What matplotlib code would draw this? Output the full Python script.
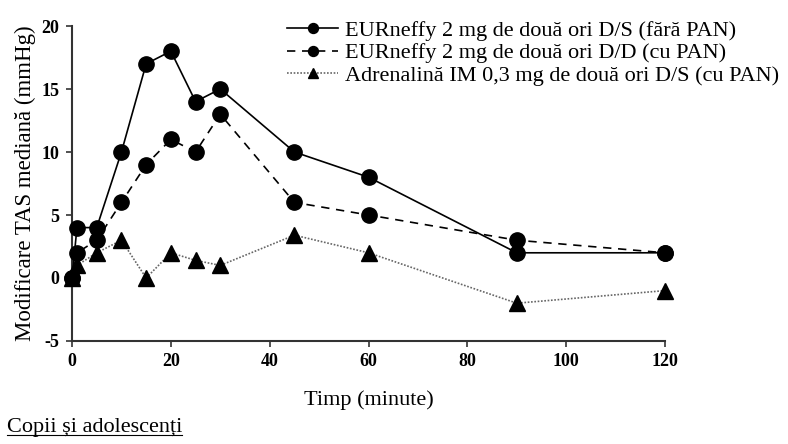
import matplotlib
matplotlib.use("Agg")
import matplotlib.pyplot as plt
from matplotlib.lines import Line2D

plt.rcParams['font.family'] = ['Liberation Serif', 'DejaVu Serif']
plt.rcParams['axes.unicode_minus'] = False

times = [0, 1, 5, 10, 15, 20, 25, 30, 45, 60, 90, 120]
eur_no_pan = [0, 4, 4, 10, 17, 18, 14, 15, 10, 8, 2, 2]
eur_pan = [0, 2, 3, 6, 9, 11, 10, 13, 6, 5, 3, 2]
adr_pan = [0, 1, 2, 3, 0, 2, 1.4, 1, 3.4, 2, -2, -1]

labels = ["EURneffy 2 mg de două ori D/S (fără PAN)",
          "EURneffy 2 mg de două ori D/D (cu PAN)",
          "Adrenalină IM 0,3 mg de două ori D/S (cu PAN)"]
xticks = [0, 20, 40, 60, 80, 100, 120]
yticks = [-5, 0, 5, 10, 15, 20]

fig = plt.figure(figsize=(7.88, 4.44), dpi=100)
ax = fig.add_axes([0.0914, 0.232, 0.7526, 0.7094])

ax.plot(times, eur_no_pan, color='black', lw=1.2, ls='-', marker='o',
        markersize=11, clip_on=False, zorder=3, label=labels[0])
ax.plot(times, eur_pan, color='black', lw=1.2, ls=(0, (5, 4)), marker='o',
        markersize=11, clip_on=False, zorder=3, label=labels[1])
ax.plot(times, adr_pan, color='#666666', lw=1.2, ls=(0, (1, 1)), marker='^',
        markersize=11, markerfacecolor='black', markeredgecolor='black',
        clip_on=False, zorder=3, label=labels[2])

ax.set_xlim(0, 120)
ax.set_ylim(-5, 20)
ax.set_xticks(xticks)
ax.set_yticks(yticks)
for s in ['top', 'right']:
    ax.spines[s].set_visible(False)
for s in ['left', 'bottom']:
    ax.spines[s].set_linewidth(1.5)
    ax.spines[s].set_color('#333333')
ax.tick_params(direction='out', length=4, width=1.2, color='#333333', pad=5)
for lab in ax.get_xticklabels() + ax.get_yticklabels():
    lab.set_fontweight('bold')
    lab.set_fontsize(13)

ax.set_xlabel("Timp (minute)", fontsize=16, labelpad=14)
ax.set_ylabel("Modificare TAS mediană (mmHg)", fontsize=16.5, labelpad=4)

leg = fig.legend(loc='upper left', bbox_to_anchor=(287 / 788, 1 - 20 / 444),
                 frameon=False, fontsize=16, handlelength=2.3,
                 handletextpad=0.3, labelspacing=0.1, borderpad=0,
                 borderaxespad=0, markerscale=0.65)

t = fig.text(0.009, 0.028, "Copii și adolescenți", fontsize=16, ha='left', va='baseline')
fig.canvas.draw()
bb = t.get_window_extent().transformed(fig.transFigure.inverted())
fig.add_artist(Line2D([bb.x0, bb.x1], [bb.y0 + 0.004, bb.y0 + 0.004],
                      transform=fig.transFigure, color='black', lw=0.8))

fig.savefig("out.png", dpi=100)
